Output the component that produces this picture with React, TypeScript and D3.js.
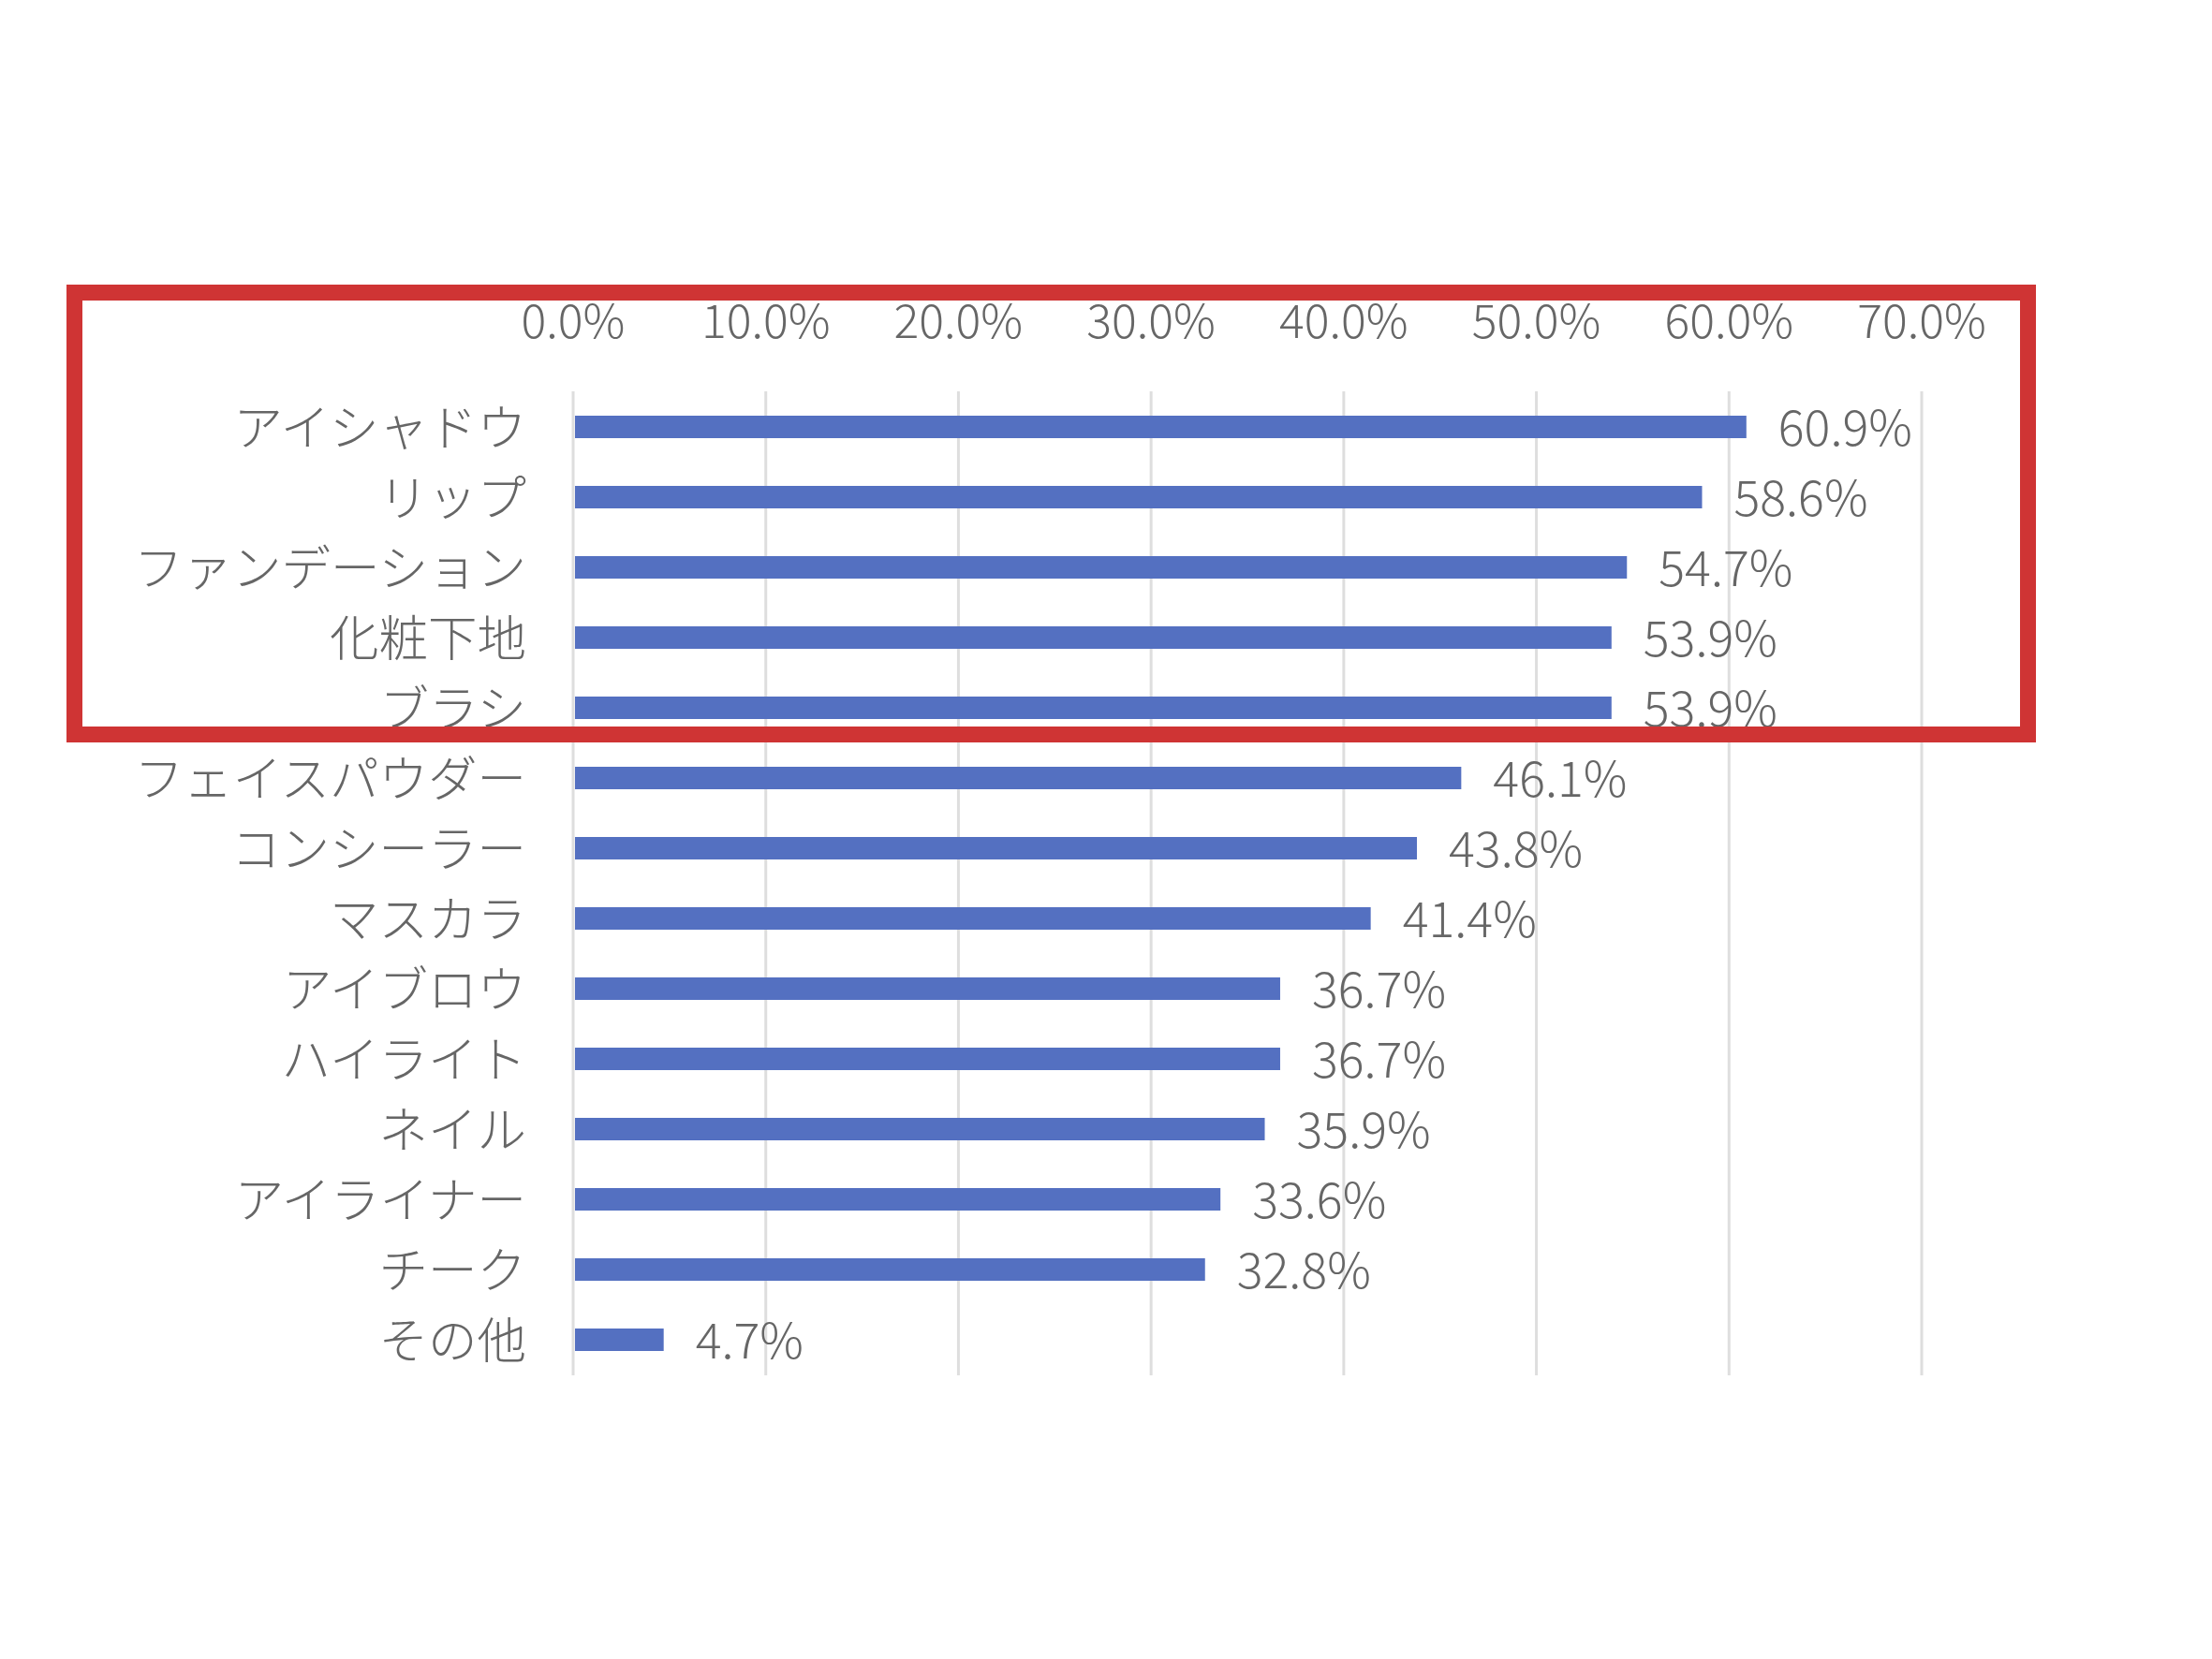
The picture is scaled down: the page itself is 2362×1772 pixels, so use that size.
import * as d3 from "d3"

// Chart data
const categories = [
  "アイシャドウ",
  "リップ",
  "ファンデーション",
  "化粧下地",
  "ブラシ",
  "フェイスパウダー",
  "コンシーラー",
  "マスカラ",
  "アイブロウ",
  "ハイライト",
  "ネイル",
  "アイライナー",
  "チーク",
  "その他",
]
const values = [60.9, 58.6, 54.7, 53.9, 53.9, 46.1, 43.8, 41.4, 36.7, 36.7, 35.9, 33.6, 32.8, 4.7]
const ticks = [0, 10, 20, 30, 40, 50, 60, 70]

const WIDTH = 2362
const HEIGHT = 1772
const FONT = "'Noto Sans CJK JP', 'Noto Sans', sans-serif"
const TEXT = "#666666"

const App = () => {
  const x = d3.scaleLinear().domain([0, 70]).range([612, 2052])
  const y = d3.scaleBand().domain(categories).range([418.5, 1468.5]).paddingInner(0.68).paddingOuter(0.34)
  const mid = (c: string) => (y(c) || 0) + y.bandwidth() / 2 - 3

  return (
    <svg
      width={WIDTH}
      height={HEIGHT}
      style={{ position: "absolute", top: 0, left: 0, background: "#fff" }}
      fontFamily={FONT}
    >
      {/* gridlines */}
      {ticks.map((t) => (
        <line key={t} x1={x(t)} x2={x(t)} y1={418} y2={1469} stroke="#dedede" strokeWidth={3} />
      ))}

      {/* tick labels on top */}
      {ticks.map((t) => (
        <text
          key={t}
          x={x(t)}
          y={339}
          textAnchor="middle"
          dominantBaseline="central"
          fontSize={50}
          fontWeight={300}
          fill={TEXT}
        >
          {t.toFixed(1)}%
        </text>
      ))}

      {/* bars */}
      {categories.map((c, i) => (
        <rect
          key={c}
          x={x(0) + 2}
          y={y(c)}
          width={x(values[i]) - x(0) - 2}
          height={y.bandwidth()}
          fill="#5470c1"
        />
      ))}

      {/* category labels */}
      {categories.map((c) => (
        <text
          key={c}
          x={562}
          y={mid(c)}
          textAnchor="end"
          dominantBaseline="central"
          fontSize={52.5}
          fontWeight={300}
          fill={TEXT}
        >
          {c}
        </text>
      ))}

      {/* value labels */}
      {categories.map((c, i) => (
        <text
          key={c}
          x={x(values[i]) + 34}
          y={mid(c)}
          dominantBaseline="central"
          fontSize={52}
          fontWeight={300}
          fill={TEXT}
        >
          {values[i].toFixed(1)}%
        </text>
      ))}

      {/* highlight frame */}
      <rect x={79.5} y={312.5} width={2086} height={472} fill="none" stroke="#cf3434" strokeWidth={17} />
    </svg>
  )
}

export default App
